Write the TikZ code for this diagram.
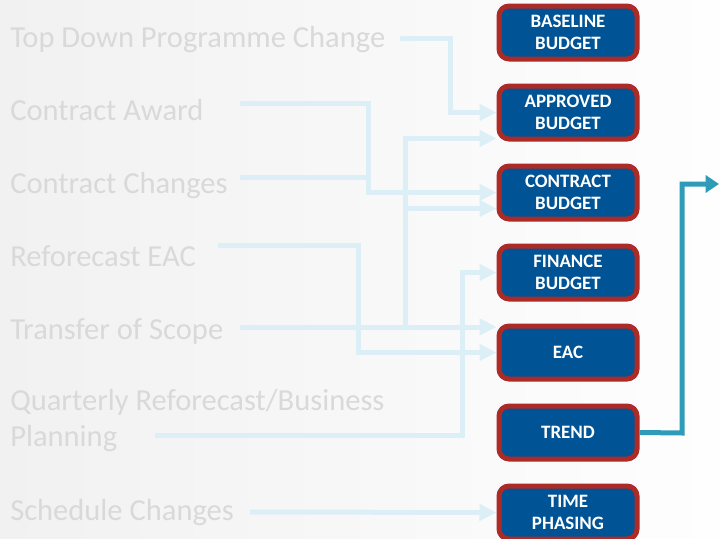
\documentclass[tikz,border=0pt]{standalone}
\usepackage{fontspec}
\setmainfont{Carlito}
\usetikzlibrary{arrows.meta,calc}
\definecolor{bgl}{RGB}{241,241,241}
\definecolor{bgr}{RGB}{254,254,254}
\definecolor{lbl}{RGB}{217,217,217}
\definecolor{conncol}{RGB}{220,239,247}
\definecolor{boxfill}{RGB}{0,84,150}
\definecolor{boxedge}{RGB}{173,43,38}
\definecolor{trendcol}{RGB}{46,156,185}
\begin{document}
\begin{tikzpicture}[x=0.75pt,y=-0.75pt,
  lbltext/.style={anchor=base west,inner sep=0pt,text=lbl,font=\fontsize{22.9pt}{27pt}\selectfont},
  stagebox/.style={draw=boxedge,fill=boxfill,line width=3.75pt,rounded corners=7.5pt,
    minimum width=103.5pt,minimum height=39.75pt,inner sep=0pt,align=center,text=white,
    font=\fontsize{14.2pt}{16.5pt}\selectfont\bfseries},
  conn/.style={draw=conncol,line width=3.75pt,-{Triangle[length=12.75pt,width=12pt]}},
  connplain/.style={draw=conncol,line width=3.75pt},
  trendarrow/.style={draw=trendcol,line width=3.75pt,-{Triangle[length=10pt,width=12.75pt]}}]
\useasboundingbox (0,0) rectangle (719,539);
\shade[left color=bgl,right color=bgr] (0,0) rectangle (719,539);

% labels
\node[lbltext] (ltd) at (10,47) {Top Down Programme Change};
\node[lbltext] (lca) at (10,120) {Contract Award};
\node[lbltext] (lcc) at (10,193) {Contract Changes};
\node[lbltext] (lre) at (10,266) {Reforecast EAC};
\node[lbltext] (lts) at (10,339) {Transfer of Scope};
\node[lbltext,align=left,anchor=north west] (lqr) at (10,389) {Quarterly Reforecast/Business\\Planning};
\node[lbltext] (lsc) at (10,520) {Schedule Changes};

% boxes
\node[stagebox] (baseline) at (568,32.5) {BASELINE\\BUDGET};
\node[stagebox] (approved) at (568,112.5) {APPROVED\\BUDGET};
\node[stagebox] (contract) at (568,192.5) {CONTRACT\\BUDGET};
\node[stagebox] (finance) at (568,272.5) {FINANCE\\BUDGET};
\node[stagebox] (eac) at (568,352.5) {EAC};
\node[stagebox] (trend) at (568,432.5) {TREND};
\node[stagebox] (timeph) at (568,512.5) {TIME\\PHASING};

% connector coordinates
\coordinate (sTD) at (400,38);
\coordinate (jTD) at (450,38);
\coordinate (sCA) at (240,103);
\coordinate (jCA) at (368,103);
\coordinate (sCC) at (240,177);
\coordinate (jCC) at (368,177);
\coordinate (sRE) at (218,245);
\coordinate (jRE) at (358,245);
\coordinate (sTS) at (240,327);
\coordinate (jTS) at (405,327);
\coordinate (sQR) at (155,435);
\coordinate (jQR) at (462,435);
\coordinate (sSC) at (250,512);
\coordinate (jTR) at (682,433);
\coordinate (eTR) at (719,184);

% connectors
\draw[conn] (sTD) -- (jTD) |- (approved.west);
\draw[connplain] (sCC) -- (jCC);
\draw[conn] (sCA) -- (jCA) |- (contract.west);
\draw[conn] (sRE) -- (jRE) |- (eac.west);
\draw[conn] (sTS) -- (eac.west |- sTS);
\draw[conn] (jTS) |- ($(approved.west)+(0,26)$);
\draw[conn] (jTS) |- ($(contract.west)+(0,16)$);
\draw[conn] (sQR) -- (jQR) |- (finance.west);
\draw[conn] (sSC) -- (timeph.west);
\draw[trendarrow] (trend.east) -- (jTR) |- (eTR);
\end{tikzpicture}
\end{document}
